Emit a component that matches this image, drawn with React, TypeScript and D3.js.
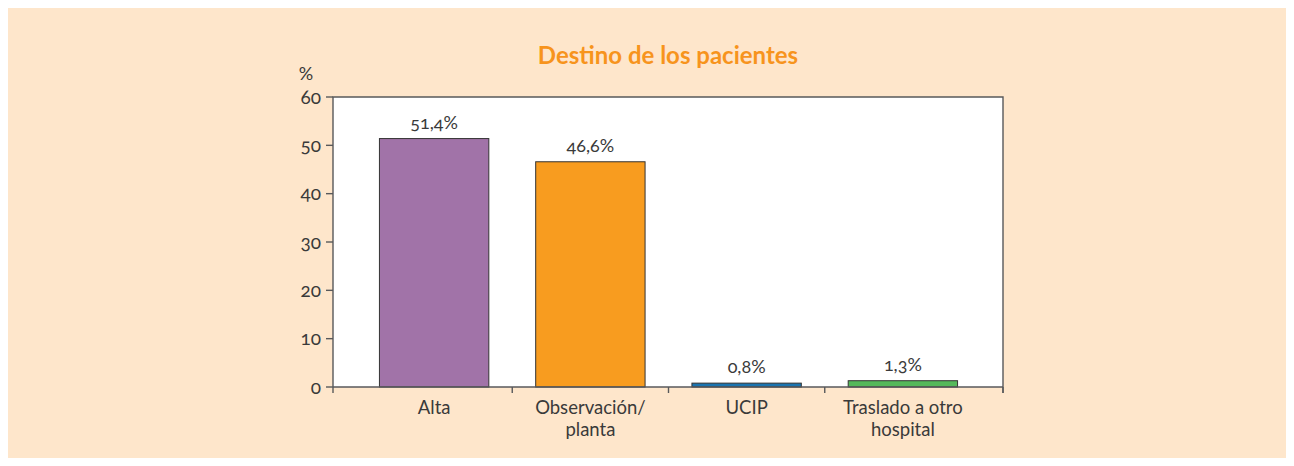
import React from "react";
import { scaleBand, scaleLinear } from "d3";

const categories = [["Alta"], ["Observación/", "planta"], ["UCIP"], ["Traslado a otro", "hospital"]];
const values = [51.4, 46.6, 0.8, 1.3];
const valueLabels = ["51,4%", "46,6%", "0,8%", "1,3%"];
const colors = ["#a173a8", "#f89c1f", "#1a74b0", "#55b95b"];
const yTicks = [0, 10, 20, 30, 40, 50, 60];

const W = 1294;
const H = 466;
const left = 333;
const right = 1003;
const top = 97;
const bottom = 387;
const font = "Lato, 'Open Sans', sans-serif";
const textColor = "#3a3a3a";
const axisColor = "#58595b";

export default function App() {
  const keys = categories.map((c) => c.join(" "));
  const x = scaleBand<string>()
    .domain(keys)
    .range([356, 981])
    .paddingInner(0.3)
    .paddingOuter(0.15);
  const y = scaleLinear().domain([0, 60]).range([bottom, top]);
  const step = x.step();
  const first = (x(keys[0]) as number) - (step * 0.3) / 2;
  const bounds = [left, ...keys.slice(1).map((_, i) => first + step * (i + 1)), right];

  return (
    <svg
      width={W}
      height={H}
      style={{ display: "block", margin: -8, fontFamily: font, fontVariantNumeric: "oldstyle-nums" }}
    >
      <rect x={6} y={7} width={1286} height={458} fill="#fee6cb" />
      <text x={(left + right) / 2} y={64} textAnchor="middle" fontSize={24} fontWeight="bold" fill="#f7941d">
        Destino de los pacientes
      </text>
      <text x={306} y={80} textAnchor="middle" fontSize={18} fill={textColor}>
        %
      </text>
      <rect x={left} y={top} width={right - left} height={bottom - top} fill="#ffffff" />
      {keys.map((k, i) => (
        <g key={k}>
          <rect
            x={x(k)}
            y={y(values[i])}
            width={x.bandwidth()}
            height={bottom - y(values[i])}
            fill={colors[i]}
            stroke="#333"
            strokeWidth={1}
          />
          <text
            x={(x(k) as number) + x.bandwidth() / 2}
            y={y(values[i]) - 10}
            textAnchor="middle"
            fontSize={18}
            fill={textColor}
          >
            {valueLabels[i]}
          </text>
          {categories[i].map((line, j) => (
            <text
              key={j}
              x={(x(k) as number) + x.bandwidth() / 2}
              y={414 + j * 22}
              textAnchor="middle"
              fontSize={18.5}
              fill={textColor}
            >
              {line}
            </text>
          ))}
        </g>
      ))}
      <path
        d={`M${left},${bottom}V${top}H${right}V${bottom + 6}`}
        fill="none"
        stroke={axisColor}
        strokeWidth={1.4}
      />
      <line x1={left} x2={right} y1={bottom} y2={bottom} stroke={axisColor} strokeWidth={1.4} />
      {bounds.map((b, i) => (
        <line key={i} x1={b} x2={b} y1={bottom} y2={bottom + 6} stroke={axisColor} strokeWidth={1.4} />
      ))}
      {yTicks.map((t) => (
        <g key={t}>
          <line x1={left - 7} x2={left} y1={y(t)} y2={y(t)} stroke={axisColor} strokeWidth={1.4} />
          <text x={left - 12} y={y(t)} dy="0.35em" textAnchor="end" fontSize={19} fill={textColor}>
            {t}
          </text>
        </g>
      ))}
    </svg>
  );
}
